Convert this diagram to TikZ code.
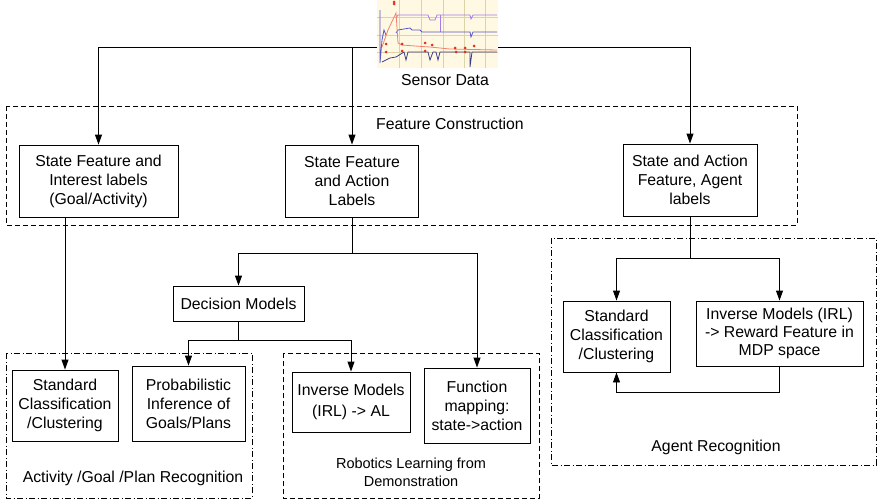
\documentclass[tikz,border=0pt]{standalone}
\usepackage{fontspec}
\setmainfont{Liberation Sans}
\usetikzlibrary{arrows.meta}
\definecolor{plotbg}{HTML}{FFF9E3}
\definecolor{plotgrid}{HTML}{DCD3A8}
\definecolor{plotpurple}{HTML}{A77BE8}
\definecolor{plotblue}{HTML}{5A55C8}
\definecolor{plotred}{HTML}{F0826E}
\definecolor{plotdot}{HTML}{E0301E}
\tikzset{
  box/.style={draw, line width=0.9pt, align=center, inner sep=2pt,
    font=\fontsize{15.8}{19}\selectfont},
  grp/.style={draw, line width=0.8pt, dash pattern=on 5pt off 3pt},
  grpdd/.style={draw, line width=0.8pt, dash pattern=on 6pt off 2.5pt on 1pt off 2.5pt},
  lbl/.style={align=center, inner sep=0pt, font=\fontsize{15.8}{19}\selectfont},
  conn/.style={line width=0.9pt},
  arr/.style={line width=0.9pt, -{Triangle[length=10pt,width=7pt]}},
}
\begin{document}
\begin{tikzpicture}[x=1pt,y=-1pt]
\useasboundingbox (0,0) rectangle (877,501);

% group boxes
\draw[grp] (6,106) rectangle (797,225);
\node[lbl] (fclbl) at (450,124) {Feature Construction};
\draw[grpdd] (6,353) rectangle (252,498);
\node[lbl] (actlbl) at (133,478) {Activity /Goal /Plan Recognition};
\draw[grp] (283,353) rectangle (539,498);
\node[lbl, font=\fontsize{14.5}{18}\selectfont] (roblbl) at (411,472) {Robotics Learning from\\Demonstration};
\draw[grpdd] (551,238) rectangle (876,465);
\node[lbl] (aglbl) at (716,447) {Agent Recognition};

% sensor image
\node[fill=plotbg, minimum width=121pt, minimum height=68pt, inner sep=0pt] (sensor) at (437.5,34) {};
\begin{scope}
\clip (377,0) rectangle (498,68);
\foreach \gx in {399,421,443,464,485} \draw[plotgrid, line width=0.6pt] (\gx,0) -- (\gx,68);
\foreach \gy in {17,35,52} \draw[plotgrid, line width=0.6pt] (377,\gy) -- (498,\gy);
\draw[plotpurple, line width=0.8pt] (396,18) -- (398,15) -- (428,15) -- (430,20) -- (435,20) -- (437,15) -- (470,15) -- (471,19) -- (473,15) -- (497,15);
\draw[plotpurple, line width=0.8pt] (440,15) -- (440,32);
\draw[plotblue, line width=0.8pt] (396,33) -- (398,30) -- (410,28) -- (412,30) -- (420,30) -- (422,32) -- (470,32) -- (471,37) -- (473,32) -- (497,32);
\draw[plotblue, line width=0.8pt] (380,10) -- (380,63) -- (382,40) -- (384,30) -- (386,35);
\draw[plotred, line width=0.8pt] (382,47) -- (388,30) -- (396,13) -- (398,43) -- (402,45) -- (415,46) -- (430,47) -- (450,49) -- (497,50);
\draw[plotblue!70!black, line width=0.8pt] (382,62) -- (390,58) -- (396,57) -- (404,52) -- (406,60) -- (408,52) -- (428,52) -- (430,60) -- (433,52) -- (436,52) -- (438,60) -- (440,52) -- (470,52) -- (470,67) -- (472,52) -- (497,52);
\foreach \dx/\dy in {394/4,394/2,386/44,386/52,402/44,402/51,425/43,432/45,425/51,455/48,465/48,474/46,456/52,465/52} \fill[plotdot] (\dx,\dy) circle (1.5pt);
\end{scope}
\node[lbl] (sdlbl) at (445,80) {Sensor Data};
\coordinate (sL) at (377,47);
\coordinate (sR) at (498,47);
\coordinate (j2) at (352,47);

% boxes
\node[box, minimum width=159pt, minimum height=72pt] (b1) at (98.5,181) {State Feature and\\Interest labels\\(Goal/Activity)};
\node[box, minimum width=133pt, minimum height=72pt] (b2) at (352,181) {State Feature\\and Action\\Labels};
\node[box, minimum width=134pt, minimum height=72pt] (b3) at (690,180) {State and Action\\Feature, Agent\\labels};
\node[box, minimum width=131pt, minimum height=35pt] (dm) at (238.5,303.5) {Decision Models};
\node[box, minimum width=106pt, minimum height=71pt] (sc1) at (65,405.5) {Standard\\Classification\\/Clustering};
\node[box, minimum width=113pt, minimum height=75pt] (pi) at (188.5,403.5) {Probabilistic\\Inference of\\Goals/Plans};
\node[box, minimum width=118pt, minimum height=60pt, font=\fontsize{15.8}{21}\selectfont] (im) at (351,402) {Inverse Models\\(IRL) -> AL};
\node[box, minimum width=106pt, minimum height=75pt] (fm) at (477,405.5) {Function\\mapping:\\state->action};
\node[box, minimum width=107pt, minimum height=71pt] (sc2) at (616.5,336.5) {Standard\\Classification\\/Clustering};
\node[box, minimum width=167pt, minimum height=65pt, font=\fontsize{15.8}{18}\selectfont] (irl) at (779.5,333.5) {Inverse Models (IRL)\\-> Reward Feature in\\MDP space};

% connectors
\draw[arr] (sL) -| (b1.north);
\draw[arr] (sR) -| (b3.north);
\draw[arr] (j2) -- (b2.north);
\draw[arr] (b1.south -| sc1.north) -- (sc1.north);
\coordinate (j3) at (352,253);
\draw[conn] (b2.south) -- (j3);
\draw[arr] (j3) -| (dm.north);
\draw[arr] (j3) -| (fm.north);
\coordinate (j4) at (238.5,340);
\draw[conn] (dm.south) -- (j4);
\draw[arr] (j4) -| (pi.north);
\draw[arr] (j4) -| (im.north);
\coordinate (j5) at (690,258);
\draw[conn] (b3.south) -- (j5);
\draw[arr] (j5) -| (sc2.north);
\draw[arr] (j5) -| (irl.north);
\coordinate (j6) at (779.5,392);
\draw[conn] (irl.south) -- (j6);
\draw[arr] (j6) -| (sc2.south);
\end{tikzpicture}
\end{document}
